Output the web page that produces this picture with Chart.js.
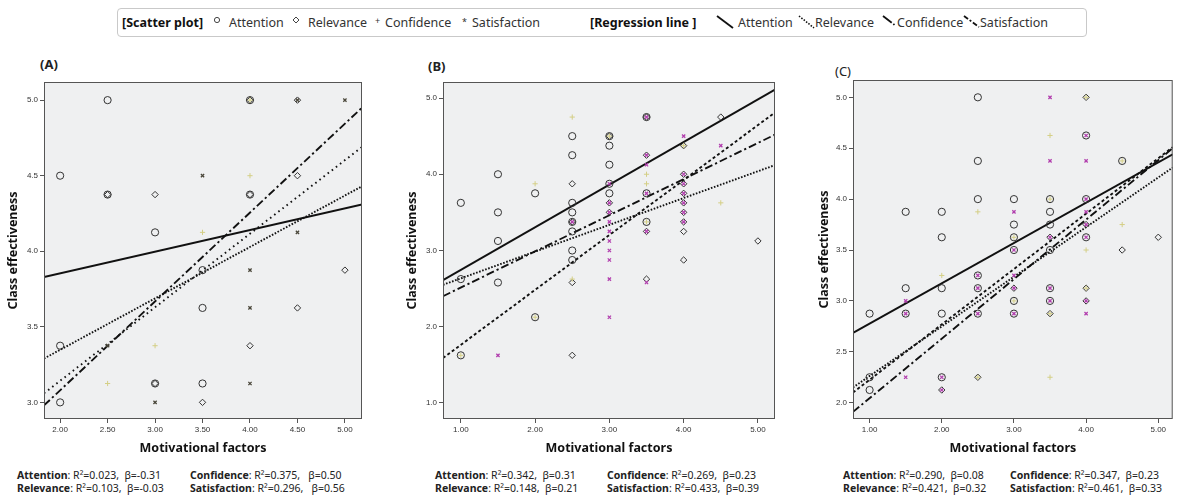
<!DOCTYPE html>
<html>
<head>
<meta charset="utf-8">
<script src="https://cdn.jsdelivr.net/npm/chart.js@4.4.0/dist/chart.umd.min.js"></script>
<style>
  body { margin: 0; background: #fff; font-family: "Noto Sans", sans-serif; color: #222; }
  #page { position: relative; width: 1178px; height: 497px; overflow: hidden; }
  .legend { position: absolute; left: 117px; top: 8px; width: 968px; height: 27px; border: 1.5px solid #c9c9c9; border-radius: 4px; }
  .lg { position: absolute; top: 14px; font-size: 12.5px; line-height: 17px; white-space: nowrap; color: #333; }
  .lg b { font-size: 12.5px; font-weight: bold; color: #111; }
  .glyph { position: absolute; }
  .ptitle { position: absolute; font-size: 13px; line-height: 16px; font-weight: bold; }
  canvas { position: absolute; top: 50px; }
  .stats { position: absolute; top: 469px; font-size: 10.5px; line-height: 12.5px; white-space: nowrap; }
</style>
</head>
<body>
<div id="page">
  <div class="legend"></div>
  <span class="lg" style="left:122px"><b>[Scatter plot]</b></span>
  <svg class="glyph" style="left:213px;top:16px" width="8" height="8"><circle cx="4" cy="4" r="2.6" fill="none" stroke="#444" stroke-width="1"/></svg>
  <span class="lg" style="left:229px">Attention</span>
  <svg class="glyph" style="left:292px;top:16px" width="8" height="8"><path d="M4 1 L7 4 L4 7 L1 4 Z" fill="none" stroke="#444" stroke-width="1"/></svg>
  <span class="lg" style="left:308px">Relevance</span>
  <span class="lg" style="left:375px;font-size:9px;top:12px">+</span>
  <span class="lg" style="left:385px">Confidence</span>
  <span class="lg" style="left:462px;font-size:9px;top:13px">*</span>
  <span class="lg" style="left:472px">Satisfaction</span>
  <span class="lg" style="left:590px"><b>[Regression line ]</b></span>
  <svg class="glyph" style="left:716px;top:15px" width="18" height="14"><line x1="1" y1="1" x2="17" y2="13" stroke="#111" stroke-width="1.8"/></svg>
  <span class="lg" style="left:738px">Attention</span>
  <svg class="glyph" style="left:798px;top:15px" width="17" height="14"><line x1="1" y1="1" x2="16" y2="13" stroke="#111" stroke-width="1.6" stroke-dasharray="1.5 1.5"/></svg>
  <span class="lg" style="left:815px">Relevance</span>
  <svg class="glyph" style="left:882px;top:15px" width="15" height="14"><line x1="1" y1="1" x2="14" y2="11" stroke="#111" stroke-width="1.8" stroke-dasharray="11 2 1.5 2"/></svg>
  <span class="lg" style="left:897px">Confidence</span>
  <svg class="glyph" style="left:963px;top:15px" width="17" height="14"><line x1="1" y1="1" x2="16" y2="12" stroke="#111" stroke-width="1.8" stroke-dasharray="5 2 2 2"/></svg>
  <span class="lg" style="left:980px">Satisfaction</span>

  <span class="ptitle" style="left:40px;top:56px">(A)</span>
  <span class="ptitle" style="left:428px;top:58px">(B)</span>
  <span class="ptitle" style="left:835px;top:63px;font-weight:normal">(C)</span>

  <canvas id="chartA" width="380" height="412" style="left:0px"></canvas>
  <canvas id="chartB" width="400" height="412" style="left:390px"></canvas>
  <canvas id="chartC" width="398" height="412" style="left:780px"></canvas>

  <div class="stats" style="left:17px"><b>Attention</b>: R²=0.023,&nbsp; β=-0.31<br><b>Relevance</b>: R²=0.103,&nbsp; β=-0.03</div>
  <div class="stats" style="left:190px"><b>Confidence</b>: R²=0.375,&nbsp;&nbsp; β=0.50<br><b>Satisfaction</b>: R²=0.296,&nbsp;&nbsp; β=0.56</div>
  <div class="stats" style="left:435px"><b>Attention</b>: R²=0.342,&nbsp; β=0.31<br><b>Relevance</b>: R²=0.148,&nbsp; β=0.21</div>
  <div class="stats" style="left:607px"><b>Confidence</b>: R²=0.269,&nbsp; β=0.23<br><b>Satisfaction</b>: R²=0.433,&nbsp; β=0.39</div>
  <div class="stats" style="left:843px"><b>Attention</b>: R²=0.290,&nbsp; β=0.08<br><b>Relevance</b>: R²=0.421,&nbsp; β=0.32</div>
  <div class="stats" style="left:1010px"><b>Confidence</b>: R²=0.347,&nbsp; β=0.23<br><b>Satisfaction</b>: R²=0.461,&nbsp; β=0.33</div>
</div>

<script>
// tick values per panel
const xTicksA = [2, 2.5, 3, 3.5, 4, 4.5, 5];
const yTicksA = [3, 3.5, 4, 4.5, 5];
const xTicksB = [1, 2, 3, 4, 5];
const yTicksB = [1, 2, 3, 4, 5];
const xTicksC = [1, 2, 3, 4, 5];
const yTicksC = [2, 2.5, 3, 3.5, 4, 4.5, 5];

// axis ranges [min, max]
const xRangeA = [1.83, 5.18], yRangeA = [2.89, 5.12];
const xRangeB = [0.76, 5.23], yRangeB = [0.79, 5.21];
const xRangeC = [0.77, 5.2], yRangeC = [1.84, 5.17];

// (A) scatter points [motivation, effectiveness]
const attentionA = [[2.5,5],[4,5],[2,4.5],[2.5,4.375],[4,4.375],[3,4.125],[3.5,3.875],[3.5,3.625],[2,3.375],[3,3.125],[3.5,3.125],[2,3]];
const relevanceA = [[4,5],[4.5,5],[4.5,4.5],[2.5,4.375],[3,4.375],[4,4.375],[5,3.875],[4.5,3.625],[4,3.375],[3,3.125],[3.5,3]];
const confidenceA = [[4,5],[4,4.5],[3.5,4.125],[3,3.375],[2.5,3.125]];
const satisfactionA = [[5,5],[4.5,5],[3.5,4.5],[4.5,4.125],[4,3.875],[4,3.625],[4,3.125],[3,3],[2.5,3.375]];

// (B)
const attentionB = [[3.5,4.75],[2.5,4.5],[3,4.5],[3,4.375],[2.5,4.25],[1.5,4],[3,4.125],[3,3.875],[2,3.75],[3,3.75],[3.5,3.75],[1,3.625],[2.5,3.625],[1.5,3.5],[2.5,3.5],[2.5,3.375],[3.5,3.375],[2.5,3.25],[1.5,3.125],[2.5,3],[2.5,2.875],[1,2.625],[1.5,2.58],[2,2.125],[1,1.625]];
const relevanceB = [[3.5,4.75],[4.5,4.75],[4,4.375],[3.5,4.25],[3,4.5],[4,4],[2.5,3.875],[4,3.875],[4,3.75],[3,3.625],[4,3.625],[3,3.5],[4,3.5],[4,3.375],[2.5,3.375],[3.5,3.25],[4,3.25],[5,3.125],[4,2.875],[3.5,2.625],[2.5,2.58],[2.5,1.625]];
const confidenceB = [[2.5,4.75],[3,4.5],[4,4.375],[3.5,4],[2,3.875],[3.5,3.875],[4.5,3.625],[3.5,3.375],[2.5,2.625],[2,2.125],[1,1.625]];
const satisfactionB = [[3.5,4.75],[4,4.5],[4.5,4.375],[3.5,4.25],[3.5,4.125],[4,4],[3,3.875],[4,3.875],[3.5,3.75],[4,3.75],[3,3.625],[4,3.625],[3,3.5],[4,3.5],[2.5,3.375],[3,3.375],[4,3.375],[3,3.25],[3.5,3.25],[3,3.125],[3,3],[3,2.875],[3,2.625],[3.5,2.58],[3,2.125],[1.5,1.625]];

// (C)
const attentionC = [[2.5,5],[4,4.625],[2.5,4.375],[4.5,4.375],[2.5,4],[3,4],[3.5,4],[4,4],[1.5,3.875],[2,3.875],[3.5,3.875],[3,3.75],[3.5,3.75],[2,3.625],[3,3.625],[4,3.625],[3,3.5],[3.5,3.5],[2.5,3.25],[1.5,3.125],[2,3.125],[2.5,3.125],[3.5,3.125],[3,3],[3.5,3],[1,2.875],[1.5,2.875],[2,2.875],[2.5,2.875],[3,2.875],[1,2.25],[2,2.25],[1,2.125]];
const relevanceC = [[4,5],[4,3.75],[3.5,3.625],[4.5,3.5],[5,3.625],[3,3.125],[4,3.125],[4,3],[3.5,2.875],[2.5,2.25],[2,2.125]];
const confidenceC = [[4,5],[3.5,4.625],[4.5,4.375],[3.5,4],[2.5,3.875],[4.5,3.75],[3,3.625],[4,3.5],[2,3.25],[4,3.125],[3,3],[3.5,2.875],[2.5,2.25],[3.5,2.25]];
const satisfactionC = [[3.5,5],[4,4.625],[3.5,4.375],[4,4.375],[4,4],[3,3.875],[4,3.875],[4,3.75],[3.5,3.625],[4,3.625],[3,3.5],[2.5,3.25],[3,3.25],[2.5,3.125],[3,3.125],[3.5,3.125],[1.5,3],[3.5,3],[4,3],[1.5,2.875],[2.5,2.875],[3,2.875],[4,2.875],[1.5,2.25],[2,2.25],[2,2.125]];

// regression line ends [x0, y0, x1, y1]: attention, relevance, confidence, satisfaction
const regA = [[1.83,3.83,5.18,4.31],[1.83,3.29,5.18,4.43],[1.83,3.06,5.18,4.69],[1.83,2.98,5.18,4.95]];
const regB = [[0.76,2.61,5.23,5.11],[0.76,2.55,5.23,4.12],[0.76,1.59,5.23,4.81],[0.76,2.40,5.23,4.52]];
const regC = [[0.77,2.685,5.2,4.44],[0.77,2.15,5.2,4.31],[0.77,2.10,5.2,4.51],[0.77,1.91,5.2,4.50]];

const toPts = arr => arr.map(p => ({x: p[0], y: p[1]}));

// grey plot background + frame
const framePlugin = {
  id: 'frame',
  beforeDatasetsDraw(chart) {
    const a = chart.chartArea, ctx = chart.ctx;
    ctx.save();
    ctx.fillStyle = '#eff0f1';
    ctx.fillRect(a.left, a.top, a.right - a.left, a.bottom - a.top);
    ctx.restore();
  },
  afterDatasetsDraw(chart) {
    const a = chart.chartArea, ctx = chart.ctx;
    ctx.save();
    ctx.strokeStyle = '#555';
    ctx.lineWidth = 1;
    ctx.strokeRect(a.left + 0.5, a.top + 0.5, a.right - a.left - 1, a.bottom - a.top - 1);
    ctx.restore();
  }
};

function makePanel(id, pts, reg, xr, yr, xt, yt, satColor, confDash, geo) {
  const scatter = (data, style, r, color, bw) => ({
    type: 'scatter', data: toPts(data), pointStyle: style, pointRadius: r,
    borderColor: color, backgroundColor: 'rgba(0,0,0,0)', pointBorderWidth: bw
  });
  const dashes = [[], [1.6, 1.6], confDash, [8, 3, 2.2, 3]];
  const lines = reg.map((r, i) => ({
    type: 'line', data: [{x: r[0], y: r[1]}, {x: r[2], y: r[3]}],
    borderColor: '#111', borderWidth: i === 0 ? 2 : 1.9, borderDash: dashes[i],
    pointRadius: 0, fill: false
  }));
  const datasets = [
    scatter(pts[3], 'crossRot', 2.3, satColor, 1.3),
    scatter(pts[2], 'cross', 2.6, '#d4cf86', 1),
    scatter(pts[1], 'rectRot', 3.2, '#333', 1),
    scatter(pts[0], 'circle', 3.6, '#333', 1)
  ].concat(lines);

  const tickFont = {size: 8, family: 'Liberation Sans'};
  new Chart(document.getElementById(id), {
    type: 'scatter',
    data: {datasets},
    options: {
      responsive: false,
      animation: false,
      layout: {padding: geo.pad},
      plugins: {legend: {display: false}, tooltip: {enabled: false}},
      scales: {
        x: {
          type: 'linear', min: xr[0], max: xr[1],
          afterBuildTicks: s => { s.ticks = xt.map(v => ({value: v})); },
          afterFit: s => { s.height = geo.xh; },
          grid: {drawOnChartArea: false, drawTicks: true, tickLength: 4, color: '#555'},
          border: {display: false},
          ticks: {callback: v => v.toFixed(2), font: tickFont, color: '#333', padding: 2, maxRotation: 0, autoSkip: false},
          title: {display: true, text: 'Motivational factors', color: '#111',
                  font: {size: 12.5, weight: 'bold', family: 'Noto Sans'}, padding: {top: 0, bottom: 0}}
        },
        y: {
          type: 'linear', min: yr[0], max: yr[1],
          afterBuildTicks: s => { s.ticks = yt.map(v => ({value: v})); },
          afterFit: s => { s.width = geo.yw; },
          grid: {drawOnChartArea: false, drawTicks: true, tickLength: 4, color: '#555'},
          border: {display: false},
          ticks: {callback: v => v.toFixed(1), font: tickFont, color: '#333', padding: 2, autoSkip: false},
          title: {display: true, text: 'Class effectiveness', color: '#111',
                  font: {size: 12.5, weight: 'bold', family: 'Noto Sans'}, padding: {top: 6, bottom: 0}}
        }
      }
    },
    plugins: [framePlugin]
  });
}

makePanel('chartA', [attentionA, relevanceA, confidenceA, satisfactionA], regA, xRangeA, yRangeA, xTicksA, yTicksA,
  '#4a473a', [1.6, 3.6], {pad: {left: 0, right: 18, top: 32, bottom: 6}, yw: 44, xh: 37});
makePanel('chartB', [attentionB, relevanceB, confidenceB, satisfactionB], regB, xRangeB, yRangeB, xTicksB, yTicksB,
  '#b23fae', [3, 2.5], {pad: {left: 9, right: 15, top: 32, bottom: 6}, yw: 44, xh: 37});
makePanel('chartC', [attentionC, relevanceC, confidenceC, satisfactionC], regC, xRangeC, yRangeC, xTicksC, yTicksC,
  '#b23fae', [3, 2.5], {pad: {left: 31, right: 0, top: 30, bottom: 6}, yw: 42, xh: 37});
</script>
</body>
</html>
